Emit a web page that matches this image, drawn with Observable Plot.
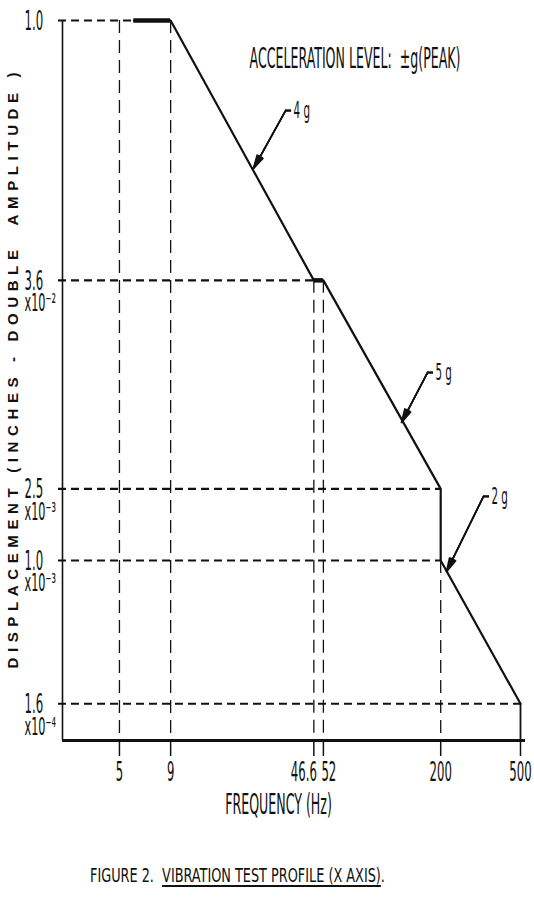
<!DOCTYPE html>
<html><head><meta charset="utf-8">
<script src="https://cdn.jsdelivr.net/npm/d3@7"></script>
<script src="https://cdn.jsdelivr.net/npm/@observablehq/plot@0.6"></script>
<style>
body{margin:0;background:#fff;}
#wrap{position:relative;width:534px;height:916px;overflow:hidden;background:#fff}
#wrap svg text{white-space:pre}
#caption{position:absolute;left:90px;top:866px;font:19px "Liberation Sans Narrow","DejaVu Sans Condensed",sans-serif;white-space:pre;transform-origin:left center;color:#111;line-height:1}
#caption span{text-decoration:underline;text-decoration-thickness:2px;text-underline-offset:3px}
</style></head><body><div id="wrap"></div>
<script>
// ---- data ----
const freqTicks = [5, 9, 46.6, 52, 200, 500];
const freqTickLabels = ["5", "9", "46.6", "52", "200", "500"];
const dispTicks = [1.0, 3.6e-2, 2.5e-3, 1.0e-3, 1.6e-4];
const dispMantissa = ["1.0", "3.6", "2.5", "1.0", "1.6"];
const dispExponent = ["", "x10⁻²", "x10⁻³", "x10⁻³", "x10⁻⁴"];

const profileFreq = [5.9, 9, 46.6, 52, 200, 200, 500];
const profileDisp = [1.0, 1.0, 3.6e-2, 3.6e-2, 2.5e-3, 1.0e-3, 1.6e-4];

const flatFrom = [5.9, 46.6];
const flatTo = [9, 52];
const flatDisp = [1.0, 3.6e-2];

const guideDisp = [1.0, 3.6e-2, 2.5e-3, 1.0e-3, 1.6e-4];
const guideEndFreq = [5.9, 46.6, 200, 200, 500];

const vGuideFreq = [5, 9, 46.6, 52, 200];
const vGuideTop = [1.0, 1.0, 3.6e-2, 3.6e-2, 1.0e-3];

const accelLabels = ["4 g", "5 g", "2 g"];
const accelTailFreq = [33.7, 171.9, 327];
const accelTailDisp = [0.316, 0.01107, 0.00227];
const accelTipFreq = [23.3, 127.6, 214];
const accelTipDisp = [0.1506, 0.00585, 0.000869];

const xDomain = [2.6, 500];
const yDomain = [1e-4, 1];

// ---- tables ----
const profile = profileFreq.map((f, i) => ({f, d: profileDisp[i]}));
const flats = flatFrom.map((a, i) => ({a, b: flatTo[i], d: flatDisp[i]}));
const hGuides = guideDisp.map((d, i) => ({d, f: guideEndFreq[i]}));
const vGuides = vGuideFreq.map((f, i) => ({f, top: vGuideTop[i]}));
const accel = accelLabels.map((label, i) => ({label, tf: accelTailFreq[i], td: accelTailDisp[i], hf: accelTipFreq[i], hd: accelTipDisp[i]}));
const yLab = dispTicks.map((d, i) => ({d, m: dispMantissa[i], e: dispExponent[i]}));
const xLab = freqTicks.map((f, i) => ({f, t: freqTickLabels[i]}));
const xLabMid = xLab.filter((d) => d.t !== "46.6" && d.t !== "52");
const xLabLeft = xLab.filter((d) => d.t === "46.6");
const xLabRight = xLab.filter((d) => d.t === "52");

const narrow = '"Liberation Sans Narrow","DejaVu Sans Condensed",sans-serif';
const ink = "#111";
const arrowOpts = {x1: "tf", y1: "td", x2: "hf", y2: "hd", stroke: ink, strokeWidth: 1.6, headLength: 13};

const chart = Plot.plot({
  width: 534, height: 850,
  marginLeft: 62, marginRight: 14, marginTop: 20, marginBottom: 110,
  style: {fontFamily: narrow, color: ink, background: "#fff", overflow: "visible"},
  x: {type: "log", domain: xDomain, axis: null},
  y: {type: "log", domain: yDomain, axis: null},
  marks: [
    Plot.ruleY(hGuides, {y: "d", x1: xDomain[0], x2: "f", insetLeft: -4, stroke: ink, strokeWidth: 2.2, strokeDasharray: "8,5"}),
    Plot.ruleX(vGuides, {x: "f", y1: "top", y2: yDomain[0], stroke: ink, strokeWidth: 1.3, strokeDasharray: "13,7"}),
    Plot.ruleX([500], {y1: 1.6e-4, y2: yDomain[0], stroke: ink, strokeWidth: 1.8}),
    Plot.ruleX([xDomain[0]], {stroke: ink, strokeWidth: 1.6}),
    Plot.ruleY([yDomain[0]], {stroke: ink, strokeWidth: 3, insetRight: -5}),
    // x ticks below the axis
    Plot.ruleX(freqTicks, {y1: yDomain[0], y2: yDomain[0], insetBottom: -16, stroke: ink, strokeWidth: 1.5}),
    Plot.line(profile, {x: "f", y: "d", stroke: ink, strokeWidth: 2.2}),
    Plot.ruleY(flats, {y: "d", x1: "a", x2: "b", stroke: ink, strokeWidth: 4.5}),
    // leader arrows with solid heads
    Plot.arrow(accel, {...arrowOpts, headAngle: 28}),
    Plot.arrow(accel, {...arrowOpts, headAngle: 19}),
    Plot.arrow(accel, {...arrowOpts, headAngle: 10}),
    Plot.ruleY(accel, {y: "td", x1: "tf", x2: "tf", insetRight: -6, stroke: ink, strokeWidth: 2.5}),
    Plot.text(accel, {x: "tf", y: "td", text: "label", textAnchor: "start", dx: 8, fontSize: 23, fill: ink}),
    // x tick labels
    Plot.text(xLabMid, {x: "f", text: "t", frameAnchor: "bottom", lineAnchor: "top", dy: 22, fontSize: 26, fill: ink}),
    Plot.text(xLabLeft, {x: "f", text: "t", frameAnchor: "bottom", lineAnchor: "top", dy: 22, dx: 3, textAnchor: "end", fontSize: 26, fill: ink}),
    Plot.text(xLabRight, {x: "f", text: "t", frameAnchor: "bottom", lineAnchor: "top", dy: 22, dx: -2, textAnchor: "start", fontSize: 26, fill: ink}),
    // y tick labels (mantissa + exponent line)
    Plot.text(yLab, {x: xDomain[0], y: "d", text: "m", textAnchor: "start", dx: -38, lineAnchor: "top", dy: -9, fontSize: 26, fill: ink}),
    Plot.text(yLab, {x: xDomain[0], y: "d", text: "e", textAnchor: "start", dx: -38, lineAnchor: "top", dy: 13, fontSize: 25, fill: ink}),
    Plot.text(["ACCELERATION LEVEL:  ±g(PEAK)"], {frameAnchor: "top-right", textAnchor: "end", dx: -60, dy: 28, fontSize: 28, fill: ink}),
    Plot.text(["FREQUENCY (Hz)"], {frameAnchor: "bottom", dx: -13, dy: 73, fontSize: 28, fill: ink}),
    Plot.text(["DISPLACEMENT (INCHES - DOUBLE  AMPLITUDE )"], {frameAnchor: "left", rotate: -90, textAnchor: "start", dx: -49, dy: 288, fontSize: 15, fontWeight: "bold", fontFamily: "Liberation Sans, Arial, sans-serif", fill: ink})
  ]
});
const wrap = document.getElementById("wrap");
wrap.appendChild(chart);

// condensed lettering like the original drawing
const K = 0.5;
chart.querySelectorAll("text").forEach((t) => {
  if (t.textContent.startsWith("DISPLACEMENT")) {
    t.setAttribute("textLength", 596); t.setAttribute("lengthAdjust", "spacing");
    return;
  }
  const L = t.getComputedTextLength();
  if (L > 0) { t.setAttribute("textLength", (L * K).toFixed(1)); t.setAttribute("lengthAdjust", "spacingAndGlyphs"); }
});

const cap = document.createElement("div");
cap.id = "caption";
cap.innerHTML = 'FIGURE 2.  <span>VIBRATION TEST PROFILE (X AXIS)</span>.';
wrap.appendChild(cap);
const w = cap.getBoundingClientRect().width;
cap.style.transform = `scaleX(${(295 / w).toFixed(3)})`;
</script></body></html>
